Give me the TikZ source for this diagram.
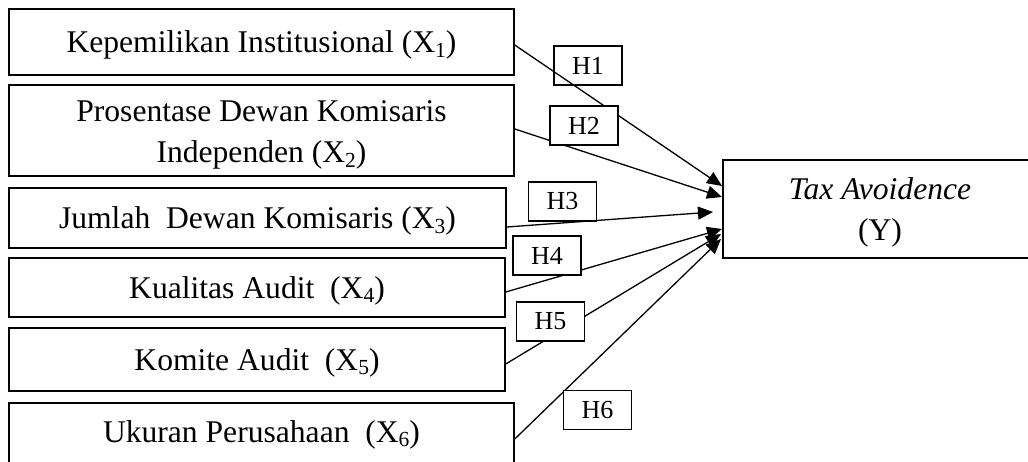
\documentclass[tikz,border=0pt]{standalone}
\usepackage{fontspec}
\setmainfont{Liberation Serif}
\usetikzlibrary{arrows.meta}
\newcommand\subx[1]{\raisebox{-0.15em}{\fontsize{21.5}{21.5}\selectfont #1}}
\begin{document}
\begin{tikzpicture}[x=1pt,y=-1pt,
  bx/.style={draw, line width=1.5pt, inner sep=0pt, align=center, font=\fontsize{31.6}{40.5}\selectfont},
  one/.style={text height=22.5pt, text depth=1.5pt},
  hl/.style={draw, line width=1.3pt, inner sep=0pt, minimum width=68pt, minimum height=39pt, font=\fontsize{26}{30}\selectfont},
  hw/.style={hl, fill=white},
  arr/.style={line width=1.3pt, -{Triangle[length=15pt,width=13pt]}}]
\clip (0,0) rectangle (1028,461);
\fill[white] (0,0) rectangle (1028,461);
% variable boxes
\node[bx,one,minimum width=505pt,minimum height=66pt] (b1) at (261.5,42) {Kepemilikan Institusional (X\subx{1})};
\node[bx,minimum width=505pt,minimum height=91pt] (b2) at (261.5,130.5) {\rule{0pt}{30pt}Prosentase Dewan Komisaris\\Independen (X\subx{2})};
\node[bx,one,minimum width=497pt,minimum height=60pt] (b3) at (257.5,218) {Jumlah\ \ Dewan Komisaris (X\subx{3})};
\node[bx,one,minimum width=496pt,minimum height=59pt] (b4) at (257,287.5) {Kualitas Audit\ \ (X\subx{4})};
\node[bx,one,minimum width=496pt,minimum height=63pt] (b5) at (257,359.5) {Komite Audit\ \ (X\subx{5})};
\node[bx,text height=8pt,text depth=2pt,minimum width=505pt,minimum height=72pt] (b6) at (261.5,439) {Ukuran Perusahaan\ \ (X\subx{6})};
% dependent box
\node[bx,minimum width=314pt,minimum height=98pt] (y) at (880,209) {\rule{0pt}{29pt}\textit{Tax Avoidence}\\(Y)};
% arrow tips
\coordinate (t1) at (722,186);
\coordinate (t2) at (722,197);
\coordinate (t3) at (713,212);
\coordinate (t4) at (722,229);
\coordinate (t5) at (721,234);
\coordinate (t6) at (721,239);
% H1 label (line shows through it)
\node[hl] (h1) at (588,65.5) {H1};
% connectors
\draw[arr] ([yshift=-3pt]b1.east) -- (t1);
\draw[arr] ([yshift=1.5pt]b2.east) -- (t2);
\draw[arr] ([yshift=-9pt]b3.east) -- (t3);
\draw[arr] ([yshift=-4.5pt]b4.east) -- (t4);
\draw[arr] ([yshift=-4.5pt]b5.east) -- (t5);
\draw[arr] (b6.east) -- (t6);
% hypothesis labels
\node[hw] (h2) at (584,125.5) {H2};
\node[hw] (h3) at (562.5,201.5) {H3};
\node[hw] (h4) at (547,255.5) {H4};
\node[hw] (h5) at (550.5,321.5) {H5};
\node[hw] (h6) at (597.5,410) {H6};
\end{tikzpicture}
\end{document}
